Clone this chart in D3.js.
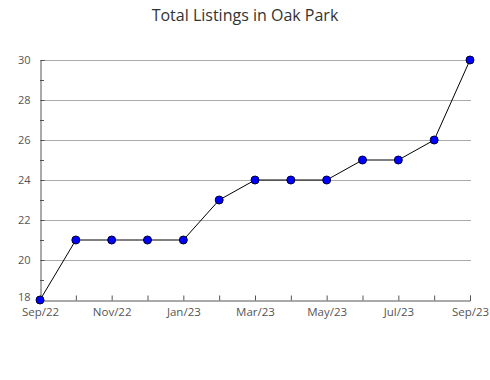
<!DOCTYPE html>
<html><head><meta charset="utf-8">
<script src="https://cdn.jsdelivr.net/npm/d3@7"></script>
<style>body{margin:0;background:#fff}text{font-family:"Open Sans",sans-serif}</style>
</head><body><svg id="c" width="490" height="380"></svg>
<script>
const months = ["Sep/22","Oct/22","Nov/22","Dec/22","Jan/23","Feb/23","Mar/23","Apr/23","May/23","Jun/23","Jul/23","Aug/23","Sep/23"];
const values = [18,21,21,21,21,23,24,24,24,25,25,26,30];
const yTicks = [18,20,22,24,26,28,30];
const yMinor = [19,21,23,25,27,29];
const xLabels = ["Sep/22","Nov/22","Jan/23","Mar/23","May/23","Jul/23","Sep/23"];
const title = "Total Listings in Oak Park";

const svg = d3.select("#c");
const L=40,R=470,T=60,B=300;
const x = d3.scalePoint().domain(months).range([L,R]);
const y = d3.scaleLinear().domain([18,30]).range([B,T]);

svg.append("text").attr("x",245).attr("y",21).attr("text-anchor","middle")
  .attr("font-size",16).attr("fill","#333").text(title);

// gridlines
svg.append("g").selectAll("line").data(yTicks.filter(d=>d>18)).join("line")
  .attr("x1",L).attr("x2",R+1).attr("y1",d=>y(d)+0.5).attr("y2",d=>y(d)+0.5)
  .attr("stroke","#aaa").attr("stroke-width",1);

// y axis
const ya = svg.append("g").attr("transform",`translate(${L+0.5},0)`)
  .call(d3.axisLeft(y).tickValues(yTicks).tickSize(-4).tickPadding(10).tickFormat(d3.format("d")));
ya.select(".domain").attr("stroke","#555");
ya.selectAll(".tick line").attr("stroke","#555");
ya.selectAll(".tick text").attr("font-size",11).attr("fill","#555").attr("font-family","Open Sans, sans-serif");
ya.selectAll(".tick").filter(d=>d===18).select("text").attr("dy","0.05em");
svg.append("g").selectAll("line").data(yMinor).join("line")
  .attr("x1",L).attr("x2",L+4).attr("y1",d=>y(d)+0.5).attr("y2",d=>y(d)+0.5).attr("stroke","#555");

// x axis
const xa = svg.append("g").attr("transform",`translate(0,${B+0.5})`)
  .call(d3.axisBottom(x).tickSize(-5).tickPadding(7).tickFormat(d=>xLabels.includes(d)?d:""));
xa.select(".domain").attr("stroke","#555");
xa.selectAll(".tick line").attr("stroke","#555");
xa.selectAll(".tick text").attr("font-size",11.5).attr("fill","#555").attr("font-family","Open Sans, sans-serif");

// line
svg.append("path").datum(values)
  .attr("d",d3.line().x((d,i)=>x(months[i])).y(d=>y(d)))
  .attr("fill","none").attr("stroke","#000").attr("stroke-width",1);

svg.append("g").selectAll("circle").data(values).join("circle")
  .attr("cx",(d,i)=>x(months[i])).attr("cy",d=>y(d)).attr("r",4)
  .attr("fill","#0000ff").attr("stroke","#000033").attr("stroke-width",1);
</script></body></html>
